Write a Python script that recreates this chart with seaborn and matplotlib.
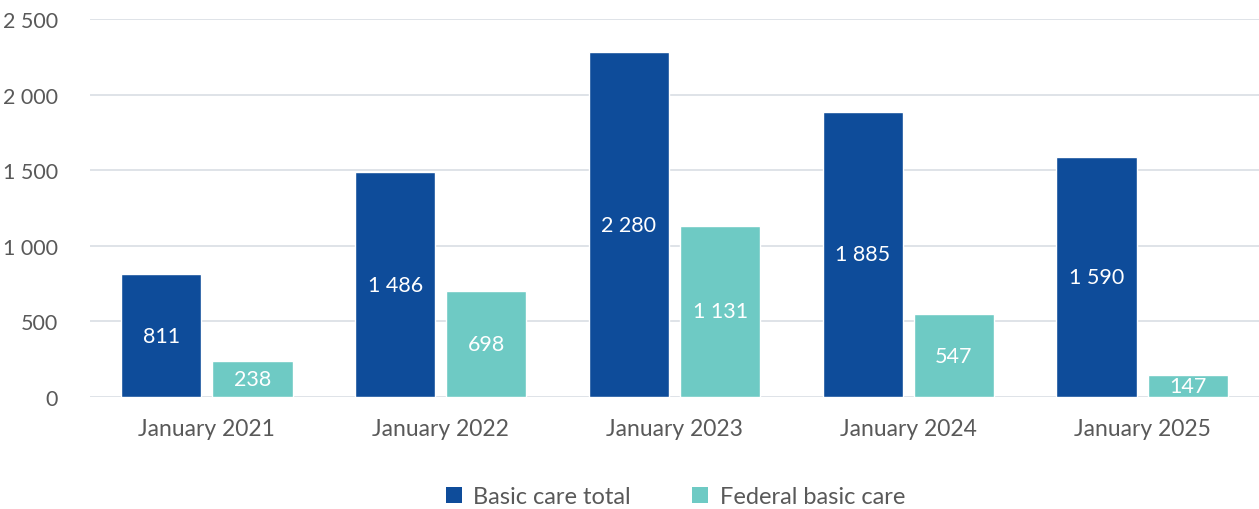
import matplotlib
matplotlib.use("Agg")
import matplotlib.pyplot as plt
import seaborn as sns
import pandas as pd
from matplotlib.patches import Patch

categories = ["January 2021", "January 2022", "January 2023", "January 2024", "January 2025"]
basic_care_total = [811, 1486, 2280, 1885, 1590]
federal_basic_care = [238, 698, 1131, 547, 147]
series_names = ["Basic care total", "Federal basic care"]
y_ticks = [0, 500, 1000, 1500, 2000, 2500]

df = pd.DataFrame({
    "period": categories * 2,
    "value": basic_care_total + federal_basic_care,
    "series": [series_names[0]] * len(categories) + [series_names[1]] * len(categories),
})

sns.set_theme(style="white")
plt.rcParams['font.family'] = ['Lato', 'DejaVu Sans']

fig = plt.figure(figsize=(12.59, 5.10), dpi=100)
ax = fig.add_axes([90 / 1259, 112 / 510, 1 - 90 / 1259, 378 / 510])

palette = {series_names[0]: "#0E4C9A", series_names[1]: "#6ECAC4"}
sns.barplot(data=df, x="period", y="value", hue="series", palette=palette,
            width=0.78, gap=0.12, saturation=1, ax=ax, legend=False)

fmt = lambda v: f"{int(v):,}".replace(",", " ")
for cont in ax.containers:
    ax.bar_label(cont, labels=[fmt(b.get_height()) for b in cont], label_type="center",
                 color="white", fontsize=15.5)

ax.set_ylim(0, 2500)
ax.set_yticks(y_ticks)
ax.set_yticklabels([fmt(t) for t in y_ticks])
ax.yaxis.grid(True, color="#D9DEE4", linewidth=1.2)
ax.set_axisbelow(True)
for s in ax.spines.values():
    s.set_visible(False)
ax.tick_params(axis="y", colors="#595959", labelsize=15.5, length=0, pad=23)
ax.tick_params(axis="x", colors="#595959", labelsize=16.5, length=0, pad=15)
ax.set_xlabel("")
ax.set_ylabel("")

handles = [Patch(facecolor=palette[n], edgecolor="none", label=n) for n in series_names]
leg = fig.legend(handles=handles, loc="center", bbox_to_anchor=(0.5366, 0.024),
                 ncol=2, frameon=False, fontsize=17, handlelength=0.65, handleheight=0.65,
                 handletextpad=0.5, columnspacing=2.6)
for t in leg.get_texts():
    t.set_color("#595959")

fig.savefig("out.png", dpi=100)
